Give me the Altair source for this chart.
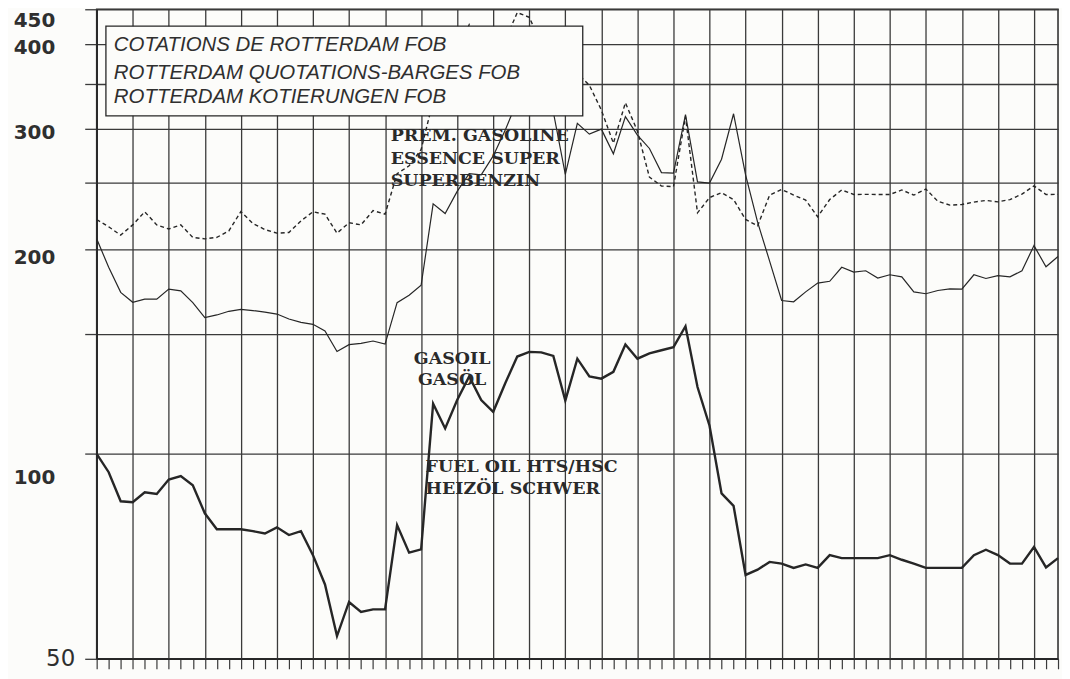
import altair as alt
import pandas as pd

# ---- data (monthly quotations) ----
months = list(range(81))

gasoline = [221, 215.6, 209.6, 217, 226.8, 217, 214, 217, 208, 207,
            208, 212.6, 227, 218, 213.6, 211, 211.5, 220, 226.8, 225,
            211, 218.6, 217, 227.7, 225, 258, 265, 280, 330, 365,
            390, 427, 390, 385, 405, 445, 438, 400, 385, 372,
            362, 348, 320, 286, 328, 298, 255, 247.5, 247, 313,
            226, 238, 242, 236.4, 221, 216.3, 240, 244.6, 240, 236,
            223, 236.4, 244.2, 240.5, 240.6, 240.5, 240.5, 244.2, 240, 245,
            235, 232, 232.5, 234.4, 235.7, 234.6, 236.4, 240.8, 247.6, 240.5,
            240.6]

gasoil = [207, 188, 172.7, 167, 168.8, 168.8, 174.6, 173.6, 166.8, 158.6,
          160, 162, 163, 162.4, 161.5, 160.5, 157.8, 156, 155, 151.6,
          141.4, 144.7, 145.3, 146.5, 145, 166.8, 171, 176.9, 233, 225.5,
          243, 258, 257, 274, 299, 330, 345, 335, 318, 257.5,
          306, 295, 300, 276, 313, 294, 281, 259, 258.6, 315,
          251, 250, 271, 316, 257, 219, 192, 168, 167.3, 173,
          178.2, 179.3, 188, 185, 185.8, 181.3, 183.3, 182, 173, 171.9,
          173.8, 174.8, 174.6, 183.3, 181, 182.8, 182, 185.8, 202.3, 188.3,
          195]

fuel_oil = [100, 94, 85.2, 84.9, 87.8, 87.3, 91.7, 92.8, 89.9, 81.8,
            77.5, 77.5, 77.5, 77, 76.4, 78, 76, 77, 71, 64.3,
            54, 60.6, 58.6, 59.1, 59.1, 78.6, 71.6, 72.4, 118.5, 109,
            120, 130, 120, 115.3, 127, 139, 141.2, 141, 139.3, 119.8,
            138, 130, 129, 132, 144.8, 138, 140.5, 142, 143.5, 154,
            125.4, 110, 87.5, 83.9, 66.4, 67.6, 69.4, 69, 68, 68.8,
            68, 71, 70.3, 70.3, 70.3, 70.3, 71, 69.9, 69, 68,
            68, 68, 68, 71, 72.3, 71, 69, 69, 73, 68.1,
            70.3]

y_ticks = [50, 100, 150, 200, 250, 300, 350, 400, 450]

title_lines = ["COTATIONS DE ROTTERDAM FOB",
               "ROTTERDAM QUOTATIONS-BARGES FOB",
               "ROTTERDAM KOTIERUNGEN FOB"]
gasoline_label = ["PREM. GASOLINE", "ESSENCE SUPER", "SUPERBENZIN"]
gasoil_label = ["GASOIL", "GASÖL"]
fuel_label = ["FUEL OIL HTS/HSC", "HEIZÖL SCHWER"]

# ---- tables built from the arrays ----
gas_line_df = pd.DataFrame({"month": months, "price": gasoline})
go_line_df = pd.DataFrame({"month": months, "price": gasoil})
fo_line_df = pd.DataFrame({"month": months, "price": fuel_oil})

# annotation anchors (month, price)
box_df = pd.DataFrame({"month": [0.77], "month2": [40.45], "price": [313.8], "price2": [425]})
title_df = pd.DataFrame({"t": title_lines, "month": [1.43] * 3, "price": [398.6, 362.7, 334.5]})
gas_df = pd.DataFrame({"t": gasoline_label, "month": [24.47] * 3, "price": [293.3, 271.4, 252]})
go_df = pd.DataFrame({"t": gasoil_label, "month": [29.58] * 2, "price": [137.7, 128.5]})
fo_df = pd.DataFrame({"t": fuel_label, "month": [27.37] * 2, "price": [95.5, 88.7]})

INK = "#262626"
GRID = "#3a3a3a"

x_axis = alt.Axis(
    values=months, tickCount=200, labels=False, title=None, grid=True,
    gridColor=GRID, gridWidth=1.3,
    gridOpacity={"condition": {"test": "datum.value % 3 === 0", "value": 1}, "value": 0},
    ticks=True, tickSize=10, tickColor=GRID, tickWidth=1.2,
    domain=True, domainColor=INK, domainWidth=1.5,
)

y_axis = alt.Axis(
    values=y_ticks, tickCount=50, format="d", title=None,
    labelExpr="(datum.value == 150 || datum.value == 250 || datum.value == 350) ? '' : datum.label",
    grid=True, gridColor=GRID, gridWidth=1.3,
    ticks=True, tickSize=12, tickColor=GRID, tickWidth=1.3,
    domain=True, domainColor=INK, domainWidth=1.5,
    labelOverlap=False, labelFont="DejaVu Sans", labelColor="#2f2f2f",
    labelBaseline="middle",
    labelFontSize={"condition": {"test": "datum.value == 50", "value": 23}, "value": 20},
    labelFontWeight={"condition": {"test": "datum.value == 50", "value": "normal"}, "value": "bold"},
    labelPadding={"condition": {"test": "datum.value == 50", "value": 10}, "value": 30},
    labelOffset={"condition": [
        {"test": "datum.value == 100", "value": 24},
        {"test": "datum.value == 200", "value": 9},
        {"test": "datum.value == 450", "value": 11},
        {"test": "datum.value == 50", "value": 0},
    ], "value": 3},
)

X = alt.X("month:Q", scale=alt.Scale(domain=[0, 80], nice=False, zero=False), axis=x_axis)
Y = alt.Y("price:Q", scale=alt.Scale(type="log", domain=[50, 450], nice=False), axis=y_axis)

gas_line = alt.Chart(gas_line_df).mark_line(
    color=INK, strokeWidth=1.4, strokeDash=[4, 3]).encode(x=X, y=Y)
go_line = alt.Chart(go_line_df).mark_line(
    color=INK, strokeWidth=1.2).encode(x="month:Q", y="price:Q")
fo_line = alt.Chart(fo_line_df).mark_line(
    color=INK, strokeWidth=2.4).encode(x="month:Q", y="price:Q")

box = alt.Chart(box_df).mark_rect(fill="#fcfcfa", stroke=INK, strokeWidth=1.3).encode(
    x="month:Q", x2="month2:Q", y="price:Q", y2="price2:Q",
)

title_txt = alt.Chart(title_df).mark_text(
    align="left", baseline="middle", font="Liberation Sans", fontStyle="italic",
    fontSize=20.5, color="#2f2f2f",
).encode(x="month:Q", y="price:Q", text="t:N")

lab_style = dict(baseline="middle", font="DejaVu Serif", fontWeight="bold",
                 fontSize=17.5, color="#2a2a2a")

gas_txt = alt.Chart(gas_df).mark_text(align="left", **lab_style).encode(
    x="month:Q", y="price:Q", text="t:N")
go_txt = alt.Chart(go_df).mark_text(align="center", **lab_style).encode(
    x="month:Q", y="price:Q", text="t:N")
fo_txt = alt.Chart(fo_df).mark_text(align="left", **lab_style).encode(
    x="month:Q", y="price:Q", text="t:N")

chart = alt.layer(gas_line, go_line, fo_line, box, title_txt, gas_txt, go_txt, fo_txt).properties(
    width=965, height=652,
    autosize=alt.AutoSizeParams(type="none"),
    padding={"left": 89, "top": 0, "right": 4, "bottom": 20},
).configure(background="#fcfcfa").configure_view(stroke=INK, strokeWidth=1.5)

chart.save("out.html", embed_options={"renderer": "svg", "actions": False})
